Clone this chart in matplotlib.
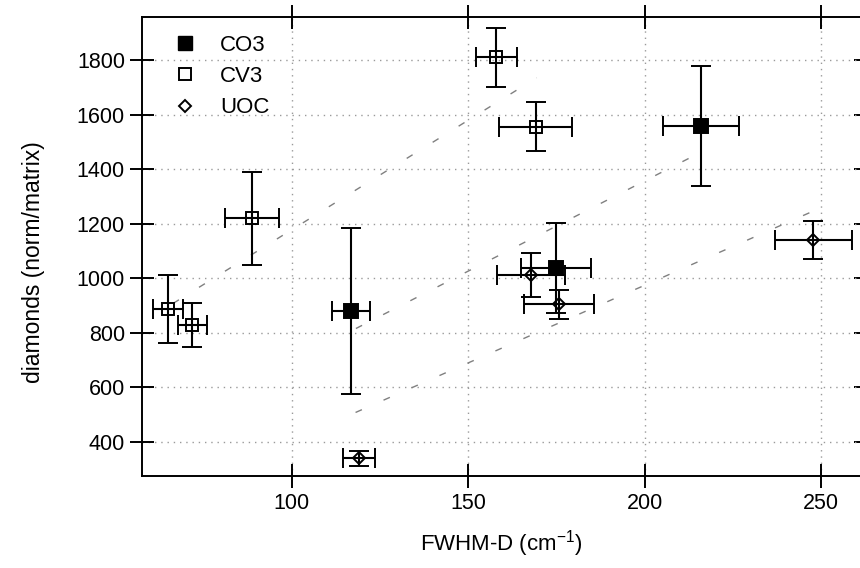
import matplotlib
matplotlib.use("Agg")
import matplotlib.pyplot as plt
from matplotlib.lines import Line2D

# Datos (FWHM-D en cm^-1, diamantes norm/matrix)
co3_x = [116.8, 174.8, 216.0]
co3_y = [879, 1036, 1558]
co3_xerr = [5.5, 9.9, 10.7]
co3_yerr = [305, 165, 219]

cv3_x = [64.9, 71.9, 88.8, 158.0, 169.1]
cv3_y = [886, 827, 1219, 1810, 1555]
cv3_xerr = [4.2, 4.2, 7.7, 5.7, 10.4]
cv3_yerr = [124, 81, 172, 108, 90]

uoc_x = [119.0, 167.9, 175.7, 247.8]
uoc_y = [339, 1011, 904, 1140]
uoc_xerr = [4.5, 9.6, 10.0, 11.0]
uoc_yerr = [27, 81, 54, 70]

# Rectas discontinuas (extremos inicio/fin)
linea_sup_x = [66.4, 169.4]
linea_sup_y = [907, 1735]
linea_med_x = [118.2, 215.5]
linea_med_y = [815, 1459]
linea_inf_x = [118.1, 252.0]
linea_inf_y = [507, 1270]

x_ticks = [100, 150, 200, 250]
y_ticks = [400, 600, 800, 1000, 1200, 1400, 1600, 1800]


def dibujar_serie(ax, x, y, xerr, yerr, marker, ms, fill):
    ax.errorbar(x, y, xerr=xerr, yerr=yerr, fmt=marker, ms=ms,
                mfc=fill, mec="black", mew=1.4, ecolor="black",
                elinewidth=1.5, capsize=7, capthick=1.6, zorder=3)


def main():
    plt.rcParams['font.family'] = ['Liberation Sans', 'DejaVu Sans']
    fig = plt.figure(figsize=(8.6, 5.68), dpi=100)
    ax = fig.add_axes([0.1655, 0.162, 0.8345, 0.8086])

    # Rectas de tendencia en gris
    for lx, ly in [(linea_sup_x, linea_sup_y), (linea_med_x, linea_med_y),
                   (linea_inf_x, linea_inf_y)]:
        ax.plot(lx, ly, color="#808080", lw=1.0, dashes=(5, 17), zorder=2)

    dibujar_serie(ax, co3_x, co3_y, co3_xerr, co3_yerr, "s", 9.5, "black")
    dibujar_serie(ax, cv3_x, cv3_y, cv3_xerr, cv3_yerr, "s", 9.0, "none")
    dibujar_serie(ax, uoc_x, uoc_y, uoc_xerr, uoc_yerr, "D", 6.2, "none")

    ax.set_xlim(57.7, 261)
    ax.set_ylim(274, 1959)
    ax.set_xticks(x_ticks)
    ax.set_yticks(y_ticks)

    ax.grid(True, color="#9a9a9a", lw=1.0, linestyle=(0, (1, 3.5)))
    ax.set_axisbelow(True)

    for s in ["left", "bottom", "top"]:
        ax.spines[s].set_linewidth(1.4)
    ax.spines["right"].set_visible(False)

    ax.tick_params(axis="both", which="major", direction="inout", length=17,
                   width=1.4, labelsize=15.5, pad=4, top=True)

    # marcas cortas en el borde derecho
    ax_der = ax.secondary_yaxis("right")
    ax_der.set_yticks(y_ticks)
    ax_der.tick_params(direction="in", length=4, width=1.4, labelright=False)
    ax_der.spines["right"].set_visible(False)

    ax.set_xlabel("FWHM-D (cm$^{\\mathregular{-1}}$)", fontsize=16, labelpad=10)
    ax.set_ylabel("diamonds (norm/matrix)", fontsize=16.5)
    ax.yaxis.set_label_coords(-0.135, 0.465)

    # Leyenda solo con marcadores
    manejadores = [
        Line2D([], [], ls="none", marker="s", ms=9.5, mfc="black", mec="black"),
        Line2D([], [], ls="none", marker="s", ms=9.0, mfc="none", mec="black", mew=1.4),
        Line2D([], [], ls="none", marker="D", ms=6.2, mfc="none", mec="black", mew=1.4),
    ]
    ax.legend(manejadores, ["CO3", "CV3", "UOC"], loc="upper left",
              bbox_to_anchor=(0.0156, 1.004), frameon=False, fontsize=16,
              handlelength=1.0, handletextpad=1.1, labelspacing=0.46)

    fig.savefig("out.png", dpi=100)


if __name__ == '__main__':
    main()
